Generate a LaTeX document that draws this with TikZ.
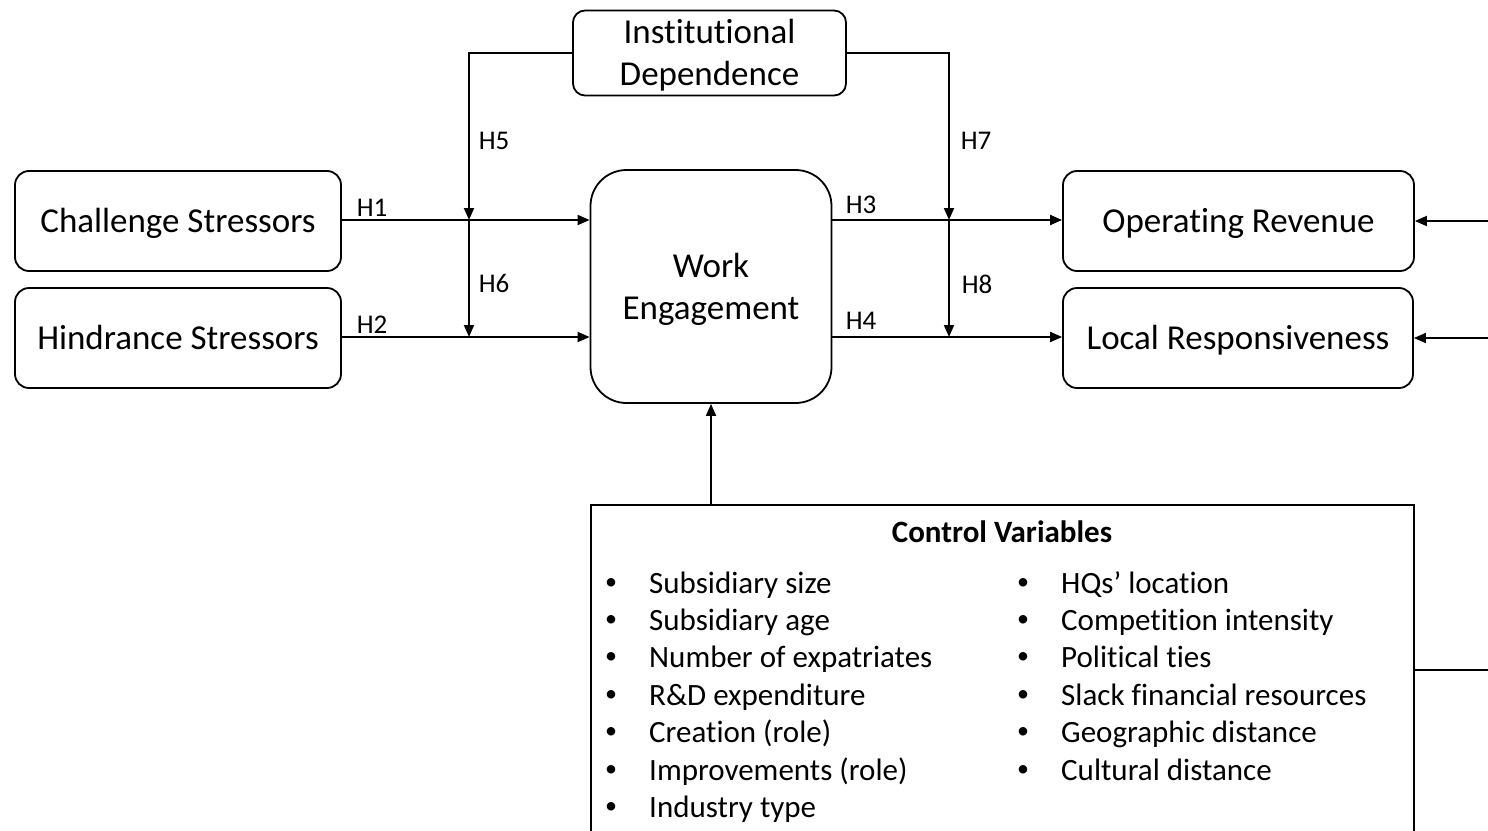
\documentclass[tikz,border=0pt]{standalone}
\usepackage{fontspec}
\setmainfont[Ligatures=NoCommon]{Carlito}
\usetikzlibrary{arrows.meta,positioning}

\begin{document}
\begin{tikzpicture}[
  x=1pt, y=-1pt,
  >={Triangle[length=12pt,width=10pt]},
  box/.style={draw, line width=1.8pt, rounded corners=14pt, align=center,
              font=\fontsize{35}{42}\selectfont, inner sep=0pt,
              text height=30pt, text depth=7pt},
  twoline/.style={text height=72pt},
  arr/.style={->, line width=1.8pt},
  ln/.style={line width=1.8pt},
  hlab/.style={font=\fontsize{27}{30}\selectfont, inner sep=0pt},
  item/.style={anchor=base west, font=\fontsize{31}{36}\selectfont, inner sep=0pt},
  dot/.style={anchor=base, font=\fontsize{24}{30}\selectfont, inner sep=0pt},
]
\useasboundingbox (0,0) rectangle (1488,830);
\clip (0,0) rectangle (1488,830);
% ---------------- boxes ----------------
\node[box, minimum width=326pt, minimum height=100pt] (cs) at (178,221) {Challenge Stressors};
\node[box, minimum width=326pt, minimum height=100pt] (hs) at (178,338) {Hindrance Stressors};
\node[box, twoline, minimum width=241pt, minimum height=233pt, rounded corners=36pt] (we) at (711,286.5) {Work\\Engagement};
\node[box, twoline, minimum width=273pt, minimum height=85pt, rounded corners=12pt] (id) at (709.5,53) {Institutional\\Dependence};
\node[box, minimum width=351pt, minimum height=100pt] (orv) at (1238.5,221) {Operating Revenue};
\node[box, minimum width=350pt, minimum height=100pt] (lr) at (1238,338) {Local Responsiveness};
\node[draw, line width=1.8pt, minimum width=823pt, minimum height=330pt, inner sep=0pt] (ctrl) at (1002.5,670) {};
% ---------------- moderator points ----------------
\coordinate (m5) at (469,220);
\coordinate (m6) at (469,337);
\coordinate (m7) at (949,220);
\coordinate (m8) at (949,337);
\coordinate (orin) at (1488,221);
\coordinate (lrin) at (1488,338);
\coordinate (rout) at (1488,670);
% ---------------- paths ----------------
\draw[arr] (cs.east |- m5) -- (we.west |- m5);
\draw[arr] (hs.east |- m6) -- (we.west |- m6);
\draw[arr] (we.east |- m7) -- (orv.west |- m7);
\draw[arr] (we.east |- m8) -- (lr.west |- m8);
\draw[arr] (id.west) -| (m5);
\draw[arr] (m5) -- (m6);
\draw[arr] (id.east) -| (m7);
\draw[arr] (m7) -- (m8);
\draw[arr] (we.south |- ctrl.north) -- (we.south);
\draw[ln] (ctrl.east) -- (rout);
\draw[arr] (orin) -- (orv.east);
\draw[arr] (lrin) -- (lr.east);
% ---------------- labels ----------------
\node[hlab] (h1) at (372,208) {H1};
\node[hlab] (h2) at (372,325) {H2};
\node[hlab] (h3) at (861,205) {H3};
\node[hlab] (h4) at (861,321) {H4};
\node[hlab] (h5) at (494,141) {H5};
\node[hlab] (h6) at (494,283) {H6};
\node[hlab] (h7) at (976,141) {H7};
\node[hlab] (h8) at (977,284) {H8};
% ---------------- control variables ----------------
\node[font=\bfseries\fontsize{31}{36}\selectfont, inner sep=0pt] (ctitle) at (1002,532) {Control Variables};
\foreach \txt [count=\i] in {Subsidiary size, Subsidiary age, Number of expatriates,
    R\&D expenditure, Creation (role), Improvements (role), Industry type}{
  \node[dot] (lb\i) at (611,{589+(\i-1)*37.4}) {•};
  \node[item] (lt\i) at (649,{593+(\i-1)*37.4}) {\txt};
}
\foreach \txt [count=\i] in {HQs’ location, Competition intensity, Political ties,
    Slack financial resources, Geographic distance, Cultural distance}{
  \node[dot] (rb\i) at (1023,{589+(\i-1)*37.4}) {•};
  \node[item] (rt\i) at (1061,{593+(\i-1)*37.4}) {\txt};
}
\end{tikzpicture}
\end{document}
